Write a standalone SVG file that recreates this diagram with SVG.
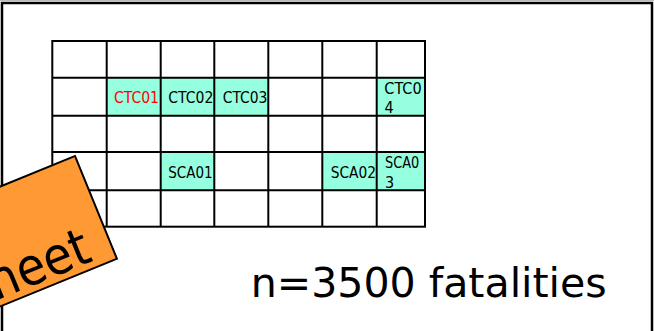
<svg xmlns="http://www.w3.org/2000/svg" width="654" height="331" viewBox="0 0 654 331">
<style>
.hl{fill:#96FFDF;stroke:none}
.grid{stroke:#000;stroke-width:2;fill:none}
.ct{font-family:"DejaVu Sans Condensed","DejaVu Sans",sans-serif;font-size:16px;fill:#000}
.red{fill:#FF0000}
</style>
<rect width="654" height="331" fill="#fff"/>
<line x1="0" y1="0.5" x2="654" y2="0.5" stroke="#bbb" stroke-width="1"/>
<rect id="frame" x="2" y="3" width="650" height="360" fill="none" stroke="#000" stroke-width="2.5"/>
<g id="table">
  <rect class="hl" x="106.7" y="77.7" width="54" height="38"/>
  <rect class="hl" x="160.7" y="77.7" width="53.6" height="38"/>
  <rect class="hl" x="214.3" y="77.7" width="54" height="38"/>
  <rect class="hl" x="376.7" y="77.7" width="48.3" height="38"/>
  <rect class="hl" x="160.7" y="152" width="53.6" height="38.3"/>
  <rect class="hl" x="322.3" y="152" width="54.4" height="38.3"/>
  <rect class="hl" x="376.7" y="152" width="48.3" height="38.3"/>
  <g class="grid">
    <rect x="52.3" y="41" width="372.7" height="185.7"/>
    <line x1="106.7" y1="41" x2="106.7" y2="226.7"/>
    <line x1="160.7" y1="41" x2="160.7" y2="226.7"/>
    <line x1="214.3" y1="41" x2="214.3" y2="226.7"/>
    <line x1="268.3" y1="41" x2="268.3" y2="226.7"/>
    <line x1="322.3" y1="41" x2="322.3" y2="226.7"/>
    <line x1="376.7" y1="41" x2="376.7" y2="226.7"/>
    <line x1="52.3" y1="77.7" x2="425" y2="77.7"/>
    <line x1="52.3" y1="115.7" x2="425" y2="115.7"/>
    <line x1="52.3" y1="152" x2="425" y2="152"/>
    <line x1="52.3" y1="190.3" x2="425" y2="190.3"/>
  </g>
  <text id="ctc01" class="ct red" x="114" y="103" textLength="45" lengthAdjust="spacingAndGlyphs">CTC01</text>
  <text id="ctc02" class="ct" x="168.3" y="103" textLength="45" lengthAdjust="spacingAndGlyphs">CTC02</text>
  <text id="ctc03" class="ct" x="222.7" y="103" textLength="44.6" lengthAdjust="spacingAndGlyphs">CTC03</text>
  <text id="ctc04a" class="ct" x="384.3" y="94.3" textLength="37.4" lengthAdjust="spacingAndGlyphs">CTC0</text>
  <text id="ctc04b" class="ct" x="384.5" y="112.7">4</text>
  <text id="sca01" class="ct" x="168.3" y="178.3" textLength="44.4" lengthAdjust="spacingAndGlyphs">SCA01</text>
  <text id="sca02" class="ct" x="330.7" y="178.3" textLength="45.3" lengthAdjust="spacingAndGlyphs">SCA02</text>
  <text id="sca03a" class="ct" x="385" y="167.7" textLength="34.3" lengthAdjust="spacingAndGlyphs">SCA0</text>
  <text id="sca03b" class="ct" x="385" y="188.3">3</text>
</g>
<g id="sheet" transform="translate(75,156) rotate(-22.2)">
  <rect x="-240" y="0" width="240" height="111" fill="#FF9933" stroke="#000" stroke-width="2"/>
  <text x="-22" y="104" text-anchor="end" font-family="DejaVu Sans Condensed, DejaVu Sans, sans-serif" font-size="52" fill="#000">Sheet</text>
</g>
<text id="caption" x="250.7" y="297.3" font-family="DejaVu Sans Condensed, DejaVu Sans, sans-serif" font-size="40" fill="#000" textLength="356" lengthAdjust="spacingAndGlyphs">n=3500 fatalities</text>
</svg>
